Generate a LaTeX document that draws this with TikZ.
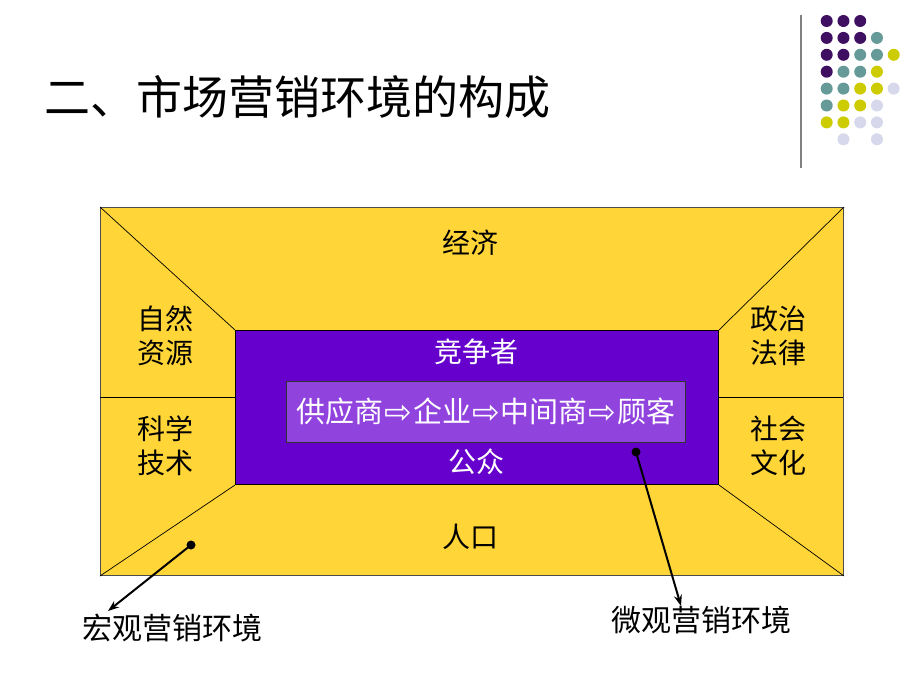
\documentclass[tikz,border=0pt]{standalone}
\usepackage{fontspec}
\setmainfont{Noto Sans CJK SC}
\newfontfamily\symfont{DejaVu Sans}
\usetikzlibrary{arrows.meta}
\definecolor{bgyellow}{HTML}{FFD538}
\definecolor{midpurple}{HTML}{6600CC}
\definecolor{boxpurple}{HTML}{9143DE}
\definecolor{dpurple}{HTML}{3F0F62}
\definecolor{dteal}{HTML}{669A99}
\definecolor{dyellow}{HTML}{CCCC00}
\definecolor{dlav}{HTML}{D8D8EC}
\newcommand{\chainarrow}{\hspace{1pt}{\symfont\fontsize{33}{30}\selectfont\raisebox{-1pt}{⇨}}\hspace{1pt}}
\tikzset{
  lbl/.style={font=\fontsize{28}{34}\selectfont, align=center, inner sep=0pt, text=black},
  wlbl/.style={font=\fontsize{28}{34}\selectfont, align=center, inner sep=0pt, text=white},
  dotp/.style={circle, inner sep=0pt, minimum size=12pt},
  ptr/.style={line width=2pt, -{Stealth[length=11pt,width=8pt]}},
  thin line/.style={line width=0.7pt, draw=black}
}
\begin{document}
\begin{tikzpicture}[x=1pt,y=-1pt]
\useasboundingbox[fill=white] (0,0) rectangle (920,690);
% title
\node[anchor=west, inner sep=0pt, font=\fontsize{46}{50}\selectfont] (title) at (44,97) {二、市场营销环境的构成};
% decoration
\draw[line width=1.5pt, draw=gray] (801,15) -- (801,168);
\foreach \c/\row/\col in {dpurple/0/0,dpurple/0/1,dpurple/0/2,
 dpurple/1/0,dpurple/1/1,dpurple/1/2,dteal/1/3,
 dpurple/2/0,dpurple/2/1,dteal/2/2,dteal/2/3,dyellow/2/4,
 dpurple/3/0,dteal/3/1,dteal/3/2,dyellow/3/3,
 dteal/4/0,dteal/4/1,dyellow/4/2,dyellow/4/3,dlav/4/4,
 dteal/5/0,dyellow/5/1,dyellow/5/2,dlav/5/3,
 dyellow/6/0,dyellow/6/1,dlav/6/2,dlav/6/3,
 dlav/7/1,dlav/7/3}{
  \node[dotp, fill=\c] (d\row\col) at ({826.7+16.75*\col},{21+16.9*\row}) {};
}
% outer frame
\node[draw=black!70, line width=1pt, fill=bgyellow, minimum width=743pt, minimum height=368pt, inner sep=0pt, anchor=north west] (outer) at (100,207) {};
\node[draw=black, line width=1pt, fill=midpurple, minimum width=483pt, minimum height=154pt, inner sep=0pt, anchor=north west] (inner) at (235,330) {};
\draw[thin line] (outer.north west) -- (inner.north west);
\draw[thin line] (outer.north east) -- (inner.north east);
\draw[thin line] (outer.south west) -- (inner.south west);
\draw[thin line] (outer.south east) -- (inner.south east);
\coordinate (lmidA) at (100,397);
\coordinate (lmidB) at (235,397);
\coordinate (rmidA) at (718,397);
\coordinate (rmidB) at (843,397);
\draw[thin line] (lmidA) -- (lmidB);
\draw[thin line] (rmidA) -- (rmidB);
% inner box
\node[draw=black!80, line width=1pt, fill=boxpurple, minimum width=399pt, minimum height=61pt, inner sep=0pt, anchor=north west] (chain) at (286,381) {};
\node[wlbl, font=\fontsize{29}{34}\selectfont] (chaintxt) at (486,411) {供应商\chainarrow 企业\chainarrow 中间商\chainarrow 顾客};
\node[wlbl] (comp) at (476,352) {竞争者};
\node[wlbl] (pub) at (476,462) {公众};
% outer labels
\node[lbl] (econ) at (470,243) {经济};
\node[lbl] (pop) at (470,537) {人口};
\node[lbl] (nat) at (165,336) {自然\\资源};
\node[lbl] (sci) at (165,446) {科学\\技术};
\node[lbl] (pol) at (778,336) {政治\\法律};
\node[lbl] (soc) at (778,446) {社会\\文化};
% pointers
\node[lbl, font=\fontsize{30}{34}\selectfont] (macro) at (172,628) {宏观营销环境};
\node[lbl, font=\fontsize{30}{34}\selectfont] (micro) at (701,620) {微观营销环境};
\node[circle, fill=black, inner sep=0pt, minimum size=9pt] (mdot) at (191,545) {};
\node[circle, fill=black, inner sep=0pt, minimum size=9pt] (idot) at (636,452) {};
\coordinate (macroend) at (108,611);
\coordinate (microend) at (681,606);
\draw[ptr] (mdot.center) -- (macroend);
\draw[ptr] (idot.center) -- (microend);
\end{tikzpicture}
\end{document}
